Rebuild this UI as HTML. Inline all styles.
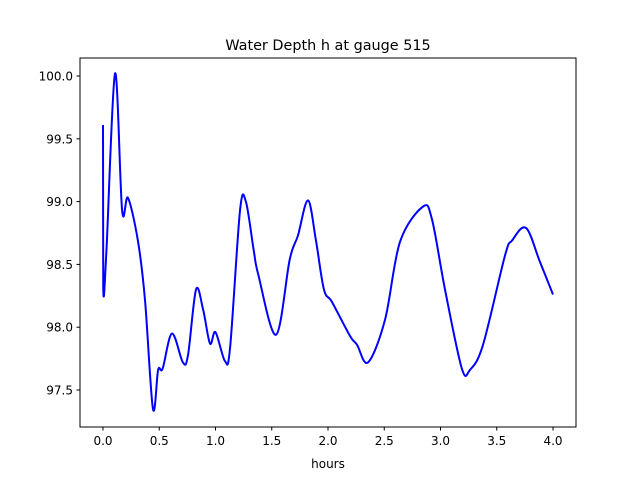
<!DOCTYPE html>
<html><head><meta charset="utf-8"><style>
body{margin:0;background:#fff}
svg text{font-family:"DejaVu Sans","Liberation Sans",sans-serif;fill:#000}
</style></head><body>
<svg id="chart" width="640" height="480" xmlns="http://www.w3.org/2000/svg">
<rect width="640" height="480" fill="#fff"/>
<text x="328" y="50" font-size="14.4" text-anchor="middle">Water Depth h at gauge 515</text>
<text x="328" y="468" font-size="12" text-anchor="middle">hours</text>
<g id="ticks"></g>
<path id="series" fill="none" stroke="#0000ff" stroke-width="2"/>
<rect x="80" y="58" width="496" height="369" fill="none" stroke="#000" stroke-width="1"/>
</svg>
<script>
const hours=[0,0.002,0.03,0.107,0.17,0.222,0.31,0.373,0.444,0.49,0.53,0.613,0.71,0.756,0.827,0.89,0.951,1.0,1.084,1.13,1.218,1.27,1.34,1.38,1.538,1.66,1.733,1.822,1.893,1.964,2.036,2.196,2.258,2.356,2.507,2.64,2.844,2.924,3.04,3.19,3.262,3.378,3.573,3.636,3.76,3.884,4.0];
const depth=[99.61,98.31,98.6,100.02,98.93,99.03,98.69,98.22,97.35,97.66,97.67,97.95,97.72,97.78,98.30,98.14,97.87,97.96,97.73,97.84,98.93,99.0,98.61,98.42,97.94,98.54,98.73,99.01,98.69,98.30,98.20,97.93,97.86,97.72,98.06,98.68,98.96,98.86,98.30,97.67,97.66,97.86,98.57,98.69,98.79,98.52,98.26];
const xTicks=[0,0.5,1,1.5,2,2.5,3,3.5,4];
const xLabels=["0.0","0.5","1.0","1.5","2.0","2.5","3.0","3.5","4.0"];
const yTicks=[97.5,98,98.5,99,99.5,100];
const yLabels=["97.5","98.0","98.5","99.0","99.5","100.0"];
const X=t=>103+t*112.5;
const Y=v=>76+(100-v)*125.6;
const NS="http://www.w3.org/2000/svg";
const g=document.getElementById('ticks');
xTicks.forEach((t,i)=>{
  const l=document.createElementNS(NS,'line');
  
  
  l.setAttribute('x1',X(t));l.setAttribute('x2',X(t));l.setAttribute('y1',427);l.setAttribute('y2',430.5);l.setAttribute('stroke','#000');
  g.appendChild(l);
  const tx=document.createElementNS(NS,'text');
  
  
  tx.setAttribute('x',X(t));tx.setAttribute('y',445);tx.setAttribute('font-size','12');tx.setAttribute('text-anchor','middle');
  tx.textContent=xLabels[i];g.appendChild(tx);
});
yTicks.forEach((v,i)=>{
  const l=document.createElementNS(NS,'line');
  
  
  l.setAttribute('x1',76.5);l.setAttribute('x2',80);l.setAttribute('y1',Y(v));l.setAttribute('y2',Y(v));l.setAttribute('stroke','#000');
  g.appendChild(l);
  const tx=document.createElementNS(NS,'text');
  
  
  tx.setAttribute('x',73);tx.setAttribute('y',Y(v)+4.5);tx.setAttribute('font-size','12');tx.setAttribute('text-anchor','end');
  tx.textContent=yLabels[i];g.appendChild(tx);
});
const P=hours.map((t,i)=>[X(t),Y(depth[i])]);
let d=`M${P[0][0]},${P[0][1]} L${P[1][0]},${P[1][1]}`;
for(let i=1;i<P.length-1;i++){
  const p0=P[i-1],p1=P[i],p2=P[i+1],p3=P[Math.min(i+2,P.length-1)];
  const c1=[p1[0]+(p2[0]-p0[0])/6,p1[1]+(p2[1]-p0[1])/6];
  const c2=[p2[0]-(p3[0]-p1[0])/6,p2[1]-(p3[1]-p1[1])/6];
  d+=` C${c1[0]},${c1[1]} ${c2[0]},${c2[1]} ${p2[0]},${p2[1]}`;
}
document.getElementById('series').setAttribute('d',d);
</script>
</body></html>
